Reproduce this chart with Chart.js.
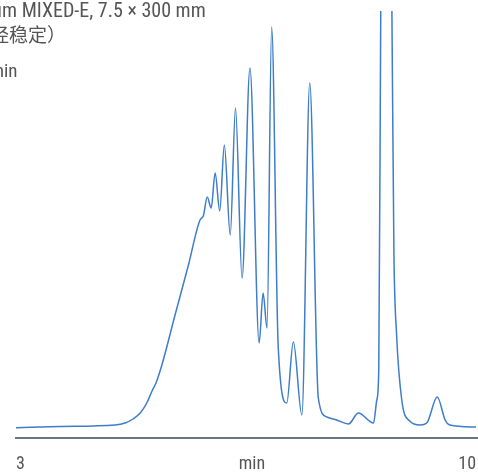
<!DOCTYPE html>
<html>
<head>
<meta charset="utf-8">
<script src="https://cdn.jsdelivr.net/npm/chart.js@4/dist/chart.umd.min.js"></script>
<style>
html,body{margin:0;padding:0;background:#fff;}
#wrap{width:478px;height:474px;position:relative;}
</style>
</head>
<body>
<div id="wrap"><canvas id="c" width="478" height="474"></canvas></div>
<script>
// Retention time (min)
const times = [3.00,3.67,4.51,4.66,4.78,4.89,4.99,5.07,5.13,5.22,5.42,5.62,5.80,5.85,5.91,5.97,6.03,6.10,6.17,6.26,6.34,6.44,6.56,6.70,6.76,6.82,6.89,6.99,7.12,7.22,7.35,7.47,7.60,7.73,7.88,8.06,8.21,8.44,8.49,8.52,8.55,8.63,8.72,8.75,8.79,8.87,8.99,9.15,9.25,9.41,9.53,9.60,10.00];
// Detector signal (arbitrary units)
const signal = [10.3,11.5,13,15,19,25,35,47,55,73,123,172,218,222,241,230,265,227,293,203,330,160,370,95,145,110,411,91,35,96,23,355,40,21,18,14,25,15,38,68,427,1200,427,188,105,38,17,13,15,41,18,13,11];
// Axis tick labels
const tickValues = [3, 6.59, 10];
const tickLabels = ["3", "min", "10"];
// Annotation text
const noteLines = ["PLgel 5 µm MIXED-E, 7.5 × 300 mm", "THF（未经稳定）", "1.0 mL/min"];

const FONT = '"Roboto Condensed","Liberation Sans Narrow","DejaVu Sans Condensed",Roboto,"Noto Sans CJK SC",sans-serif';

const textPlugin = {
  id: 'notes',
  afterDraw(chart) {
    const ctx = chart.ctx;
    ctx.save();
    ctx.fillStyle = '#555555';
    ctx.textBaseline = 'alphabetic';
    ctx.font = '20px ' + FONT;
    let pre = ctx.measureText('PLgel 5 µm ').width;
    ctx.fillText(noteLines[0], 21.7 - pre, 17.3);
    ctx.font = '19px ' + FONT;
    pre = ctx.measureText('THF（未经').width;
    ctx.fillText(noteLines[1], 9 - pre, 42);
    ctx.font = '19px ' + FONT;
    ctx.textAlign = 'right';
    ctx.fillText(noteLines[2], 17.5, 77);
    ctx.restore();
  }
};

new Chart(document.getElementById('c'), {
  type: 'line',
  data: {
    datasets: [{
      data: times.map((t, i) => ({x: t, y: signal[i]})),
      borderColor: '#3d7dca',
      borderWidth: 1.5,
      pointRadius: 0,
      fill: false,
      cubicInterpolationMode: 'monotone'
    }]
  },
  options: {
    responsive: false,
    animation: false,
    events: [],
    layout: {padding: {left: 16, right: 0, top: 11, bottom: 0}},
    plugins: {legend: {display: false}, tooltip: {enabled: false}},
    scales: {
      x: {
        type: 'linear',
        min: 3, max: 10.03,
        afterBuildTicks(scale) { scale.ticks = tickValues.map(v => ({value: v})); },
        afterFit(scale) { scale.height = 36; scale.paddingLeft = 0; scale.paddingRight = 0; },
        grid: {display: false, drawTicks: false},
        border: {display: true, color: '#6c7681', width: 2},
        ticks: {
          autoSkip: false, maxRotation: 0, align: 'inner', padding: 16,
          color: '#555555',
          font: {family: FONT, size: 18},
          callback(v, i) { return tickLabels[i]; }
        }
      },
      y: {
        display: false,
        min: 0, max: 427
      }
    }
  },
  plugins: [textPlugin]
});
</script>
</body>
</html>
